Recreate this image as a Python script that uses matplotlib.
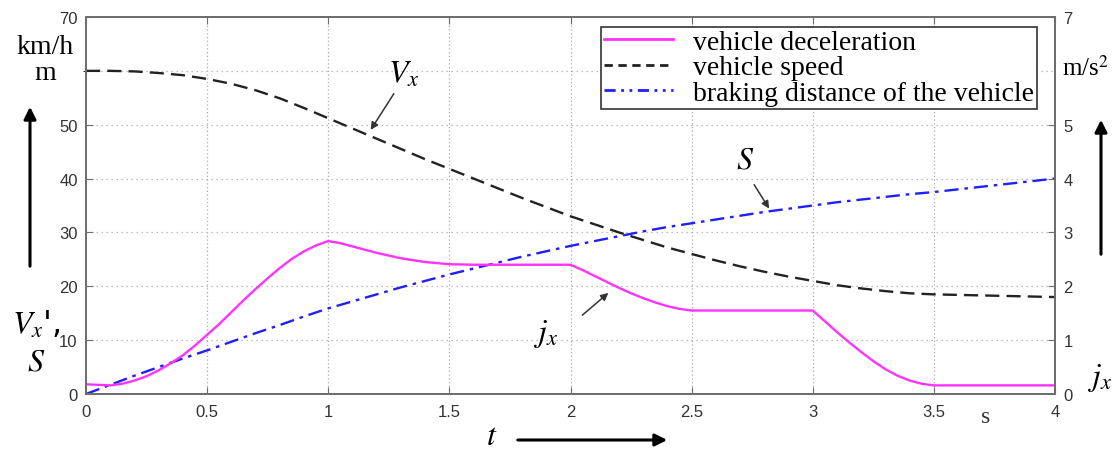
import matplotlib.pyplot as plt
from matplotlib.lines import Line2D

plt.rcParams['mathtext.fontset'] = 'stix'

# time axis (s)
t = [0.0, 0.1, 0.2, 0.3, 0.4, 0.5, 0.6, 0.7, 0.8, 0.9, 1.0,
     1.1, 1.2, 1.3, 1.4, 1.5, 1.6, 1.7, 1.8, 1.9, 2.0,
     2.1, 2.2, 2.3, 2.4, 2.5, 2.6, 2.7, 2.8, 2.9, 3.0,
     3.1, 3.2, 3.3, 3.4, 3.5, 3.6, 3.7, 3.8, 3.9, 4.0]

# vehicle speed, km/h
speed = [60.0, 60.0, 59.9, 59.6, 59.2, 58.5, 57.6, 56.4, 54.9, 53.1, 51.2,
         49.3, 47.4, 45.5, 43.6, 41.8, 40.0, 38.2, 36.4, 34.7, 33.0,
         31.5, 30.0, 28.6, 27.2, 26.0, 24.8, 23.7, 22.7, 21.8, 21.0,
         20.2, 19.6, 19.1, 18.7, 18.5, 18.4, 18.3, 18.2, 18.1, 18.0]

# braking distance, m
dist = [0.0, 1.7, 3.4, 5.0, 6.6, 8.1, 9.7, 11.3, 12.8, 14.4, 15.9,
        17.2, 18.5, 19.8, 21.0, 22.2, 23.3, 24.4, 25.5, 26.5, 27.5,
        28.4, 29.3, 30.2, 31.0, 31.7, 32.4, 33.1, 33.8, 34.4, 35.0,
        35.6, 36.1, 36.6, 37.1, 37.5, 38.0, 38.5, 39.0, 39.5, 40.0]

# vehicle deceleration, m/s^2 (read on a finer time grid)
t_dec = [0.0, 0.05, 0.1, 0.15, 0.2, 0.25, 0.3, 0.35, 0.4, 0.45, 0.5,
         0.55, 0.6, 0.65, 0.7, 0.75, 0.8, 0.85, 0.9, 0.95, 1.0,
         1.05, 1.1, 1.2, 1.3, 1.4, 1.5, 1.6, 2.0,
         2.05, 2.1, 2.15, 2.2, 2.25, 2.3, 2.35, 2.4, 2.45, 2.5, 3.0,
         3.05, 3.1, 3.15, 3.2, 3.25, 3.3, 3.35, 3.4, 3.45, 3.5, 4.0]
decel = [0.18, 0.17, 0.16, 0.19, 0.25, 0.33, 0.44, 0.57, 0.72, 0.9, 1.1,
         1.3, 1.52, 1.74, 1.95, 2.15, 2.34, 2.51, 2.65, 2.76, 2.84,
         2.8, 2.74, 2.62, 2.52, 2.45, 2.41, 2.40, 2.40,
         2.3, 2.19, 2.08, 1.97, 1.87, 1.78, 1.7, 1.63, 1.58, 1.55, 1.55,
         1.35, 1.15, 0.96, 0.78, 0.61, 0.46, 0.34, 0.25, 0.19, 0.16, 0.16]

left_ticks = [0, 10, 20, 30, 40, 50, 70]
left_labels = ['0', '10', '20', '30', '40', '50', '70']
right_ticks = [0, 1, 2, 3, 4, 5, 7]
right_labels = ['0', '1', '2', '3', '4', '5', '7']
x_ticks = [0, 0.5, 1, 1.5, 2, 2.5, 3, 3.5, 4]
x_labels = ['0', '0.5', '1', '1.5', '2', '2.5', '3', '3.5', '4']

W, H = 1118, 452
fig = plt.figure(figsize=(W / 100, H / 100), dpi=100)
ax = fig.add_axes([86 / W, 1 - 395 / H, (1055 - 86) / W, (395 - 18) / H])
ax2 = ax.twinx()

spine_c = '#6e6e6e'
lab_c = '#333333'

ax.plot(t, speed, color='#222222', lw=1.7, ls=(0, (6, 3)))
ax.plot(t, dist, color='#1f1fff', lw=1.7, ls=(0, (6, 2.5, 1.5, 2.5)))
ax2.plot(t_dec, decel, color='#ff33ff', lw=1.7)

ax.set_xlim(0, 4)
ax.set_ylim(0, 70)
ax2.set_ylim(0, 7)
ax.set_xticks(x_ticks)
ax.set_xticklabels(x_labels)
ax.set_yticks(left_ticks)
ax.set_yticklabels(left_labels)
ax2.set_yticks(right_ticks)
ax2.set_yticklabels(right_labels)

ax.set_yticks([10, 20, 30, 40, 50, 60], minor=True)
ax.grid(False)
for y in [10, 20, 30, 40, 50, 60]:
    ax.axhline(y, color='#aaaaaa', lw=0.9, ls=(0, (1, 3)), zorder=0)
for x in [0.5, 1, 1.5, 2, 2.5, 3, 3.5]:
    ax.axvline(x, color='#aaaaaa', lw=0.9, ls=(0, (1, 2)), zorder=0)

for a in (ax, ax2):
    for s in a.spines.values():
        s.set_color(spine_c)
        s.set_linewidth(1.4)
    a.tick_params(direction='in', length=5, color=spine_c, labelcolor=lab_c,
                  labelsize=12)
ax.tick_params(axis='x', top=True, pad=7)
ax.tick_params(axis='y', pad=6)
ax2.tick_params(axis='y', pad=6)
for lab in ax.get_xticklabels() + ax.get_yticklabels() + ax2.get_yticklabels():
    lab.set_family('Liberation Sans')

handles = [Line2D([], [], color='#ff33ff', lw=2),
           Line2D([], [], color='#222222', lw=2, ls=(0, (3, 2))),
           Line2D([], [], color='#1f1fff', lw=2, ls=(0, (4, 2, 1, 2, 1, 2)))]
leg = ax.legend(handles, ['vehicle deceleration', 'vehicle speed',
                          'braking distance of the vehicle'],
                loc='upper right', bbox_to_anchor=(0.981, 0.974),
                prop={'family': 'Liberation Serif', 'size': 20},
                labelspacing=0.0, borderpad=0.1, handlelength=2.5,
                handletextpad=0.7, fancybox=False, framealpha=1,
                edgecolor='#333333', borderaxespad=0)
leg.get_frame().set_linewidth(1.2)

# curve annotations
arrow_kw = dict(arrowstyle='-|>', color='#333333', lw=1.1, mutation_scale=11)
ax.text(1.31, 59.5, '$V_x$', fontsize=23, ha='center', va='center')
ax.annotate('', xy=(1.169, 48.6), xytext=(1.277, 56.2), arrowprops=arrow_kw)
ax.text(2.72, 43.6, '$S$', fontsize=23, ha='center', va='center')
ax.annotate('', xy=(2.826, 34.0), xytext=(2.752, 39.3), arrowprops=arrow_kw)
ax.text(1.90, 11.3, '$j_x$', fontsize=23, ha='center', va='center')
ax.annotate('', xy=(2.165, 19.1), xytext=(2.04, 14.3), arrowprops=arrow_kw)


def fx(px):
    return px / W


def fy(py):
    return 1 - py / H


# axis unit labels and arrows outside the plot
fig.text(fx(45), fy(48), 'km/h', fontsize=20, family='Liberation Serif',
         ha='center', va='center')
fig.text(fx(45), fy(73), 'm', fontsize=20, family='Liberation Serif',
         ha='center', va='center')
fig.text(fx(36), fy(325), "$V_{x}$',", fontsize=23, ha='center', va='center')
fig.text(fx(36), fy(362), '$S$', fontsize=23, ha='center', va='center')
fig.text(fx(1085), fy(68), 'm/s$^2$', fontsize=18, family='Liberation Serif',
         ha='center', va='center')
fig.text(fx(1100), fy(378), '$j_x$', fontsize=23, ha='center', va='center')
fig.text(fx(492), fy(437), '$t$', fontsize=23, ha='center', va='center')
fig.text(fx(986), fy(418), 's', fontsize=17, family='Liberation Serif',
         ha='center', va='center', color=lab_c)

big_arrow = dict(arrowstyle='-|>', color='black', lw=2.2, mutation_scale=18)
ax.annotate('', xy=(fx(30), fy(105)), xytext=(fx(30), fy(270)),
            xycoords='figure fraction', arrowprops=big_arrow,
            annotation_clip=False)
ax.annotate('', xy=(fx(1101), fy(118)), xytext=(fx(1101), fy(258)),
            xycoords='figure fraction', arrowprops=big_arrow,
            annotation_clip=False)
ax.annotate('', xy=(fx(670), fy(441)), xytext=(fx(515), fy(441)),
            xycoords='figure fraction', arrowprops=big_arrow,
            annotation_clip=False)

fig.savefig('out.png', dpi=100)
